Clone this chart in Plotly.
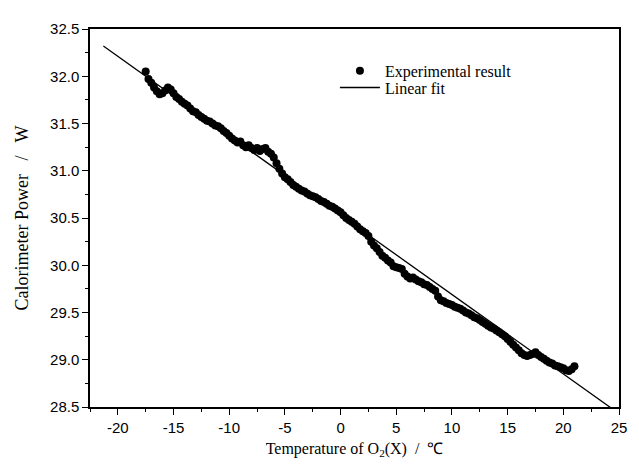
import plotly.graph_objects as go

# experimental points (temperature in degC, power in W)
temp_c = [-17.5, -17.25, -17.0, -16.75, -16.5, -16.25, -16.0, -15.75, -15.5, -15.25,
          -15.0, -14.75, -14.5, -14.25, -14.0, -13.75, -13.5, -13.25, -13.0, -12.75,
          -12.5, -12.25, -12.0, -11.75, -11.5, -11.25, -11.0, -10.75, -10.5, -10.25,
          -10.0, -9.75, -9.5, -9.25, -9.0, -8.75, -8.5, -8.25, -8.0, -7.75,
          -7.5, -7.25, -7.0, -6.75, -6.5, -6.25, -6.0, -5.75, -5.5, -5.25,
          -5.0, -4.75, -4.5, -4.25, -4.0, -3.75, -3.5, -3.25, -3.0, -2.75,
          -2.5, -2.25, -2.0, -1.75, -1.5, -1.25, -1.0, -0.75, -0.5, -0.25,
          0.0, 0.25, 0.5, 0.75, 1.0, 1.25, 1.5, 1.75, 2.0, 2.25,
          2.5, 2.75, 3.0, 3.25, 3.5, 3.75, 4.0, 4.25, 4.5, 4.75,
          5.0, 5.25, 5.5, 5.75, 6.0, 6.25, 6.5, 6.75, 7.0, 7.25,
          7.5, 7.75, 8.0, 8.25, 8.5, 8.75, 9.0, 9.25, 9.5, 9.75,
          10.0, 10.25, 10.5, 10.75, 11.0, 11.25, 11.5, 11.75, 12.0, 12.25,
          12.5, 12.75, 13.0, 13.25, 13.5, 13.75, 14.0, 14.25, 14.5, 14.75,
          15.0, 15.25, 15.5, 15.75, 16.0, 16.25, 16.5, 16.75, 17.0, 17.25,
          17.5, 17.75, 18.0, 18.25, 18.5, 18.75, 19.0, 19.25, 19.5, 19.75,
          20.0, 20.25, 20.5, 20.75, 21.0]
power_w = [32.05, 31.97, 31.93, 31.88, 31.84, 31.81, 31.82, 31.85, 31.88, 31.86,
           31.82, 31.78, 31.76, 31.73, 31.71, 31.69, 31.66, 31.63, 31.62, 31.59,
           31.57, 31.55, 31.53, 31.52, 31.50, 31.48, 31.47, 31.45, 31.42, 31.40,
           31.37, 31.34, 31.32, 31.30, 31.31, 31.27, 31.25, 31.27, 31.24, 31.22,
           31.24, 31.21, 31.23, 31.24, 31.20, 31.18, 31.14, 31.08, 31.02, 30.97,
           30.93, 30.91, 30.88, 30.85, 30.83, 30.81, 30.79, 30.78, 30.76, 30.74,
           30.73, 30.72, 30.70, 30.68, 30.67, 30.65, 30.63, 30.62, 30.60, 30.58,
           30.56, 30.53, 30.50, 30.48, 30.46, 30.44, 30.41, 30.38, 30.36, 30.34,
           30.31, 30.25, 30.21, 30.18, 30.14, 30.10, 30.08, 30.05, 30.03, 29.99,
           29.98, 29.97, 29.96, 29.91, 29.88, 29.86, 29.87, 29.85, 29.83, 29.82,
           29.80, 29.79, 29.77, 29.75, 29.73, 29.67, 29.63, 29.62, 29.60, 29.59,
           29.58, 29.56, 29.55, 29.54, 29.52, 29.50, 29.49, 29.47, 29.45, 29.44,
           29.42, 29.40, 29.38, 29.36, 29.34, 29.33, 29.31, 29.29, 29.27, 29.25,
           29.22, 29.19, 29.16, 29.13, 29.10, 29.07, 29.05, 29.04, 29.05, 29.06,
           29.08, 29.05, 29.03, 29.01, 28.99, 28.97, 28.96, 28.94, 28.93, 28.92,
           28.91, 28.89, 28.88, 28.90, 28.93]

# linear fit end points
fit_x = [-21.3, 25.0]
fit_y = [32.32, 28.43]

x_ticks = [-20, -15, -10, -5, 0, 5, 10, 15, 20, 25]
y_ticks = [28.5, 29.0, 29.5, 30.0, 30.5, 31.0, 31.5, 32.0, 32.5]

serif = "Liberation Serif, Times New Roman"

fig = go.Figure()
fig.add_trace(go.Scatter(x=temp_c, y=power_w, mode="markers", name="Experimental result",
                         marker=dict(color="black", size=8), legend="legend"))
fig.add_trace(go.Scatter(x=fit_x, y=fit_y, mode="lines", name="Linear fit",
                         line=dict(color="black", width=1.3), legend="legend2"))

axis_common = dict(showline=True, linecolor="black", linewidth=1.5, mirror=True,
                   ticks="outside", tickcolor="black", ticklen=6, tickwidth=1.2,
                   showgrid=False, zeroline=False,
                   tickfont=dict(family="Liberation Sans, Arial", size=15, color="black"),
                   minor=dict(ticks="outside", ticklen=3, tickcolor="black", tickwidth=1))

fig.update_xaxes(range=[-22.5, 25], tickvals=x_ticks, ticktext=[str(v) for v in x_ticks],
                 minor_dtick=2.5, minor_tick0=0,
                 title=dict(text="Temperature of O<sub>2</sub>(X)  /  ℃", standoff=8,
                            font=dict(family=serif, size=16, color="black")),
                 **axis_common)
fig.update_yaxes(range=[28.5, 32.5], tickvals=y_ticks, ticktext=["%.1f" % v for v in y_ticks],
                 minor_dtick=0.25, minor_tick0=0,
                 title=dict(text="Calorimeter Power   /   W", standoff=17,
                            font=dict(family=serif, size=18, color="black")),
                 **axis_common)

legend_style = dict(xanchor="left", yanchor="middle", bgcolor="rgba(0,0,0,0)",
                    itemwidth=40, font=dict(family=serif, size=16, color="black"))

# the page adds an 8px body margin, so the figure is a little smaller than the window
fig.update_layout(width=631, height=468, paper_bgcolor="white", plot_bgcolor="white",
                  margin=dict(l=81, r=19, t=12, b=69),
                  legend=dict(x=0.463, y=0.889, **legend_style),
                  legend2=dict(x=0.463, y=0.845, **legend_style),
                  showlegend=True)

fig.write_html("out.html")
